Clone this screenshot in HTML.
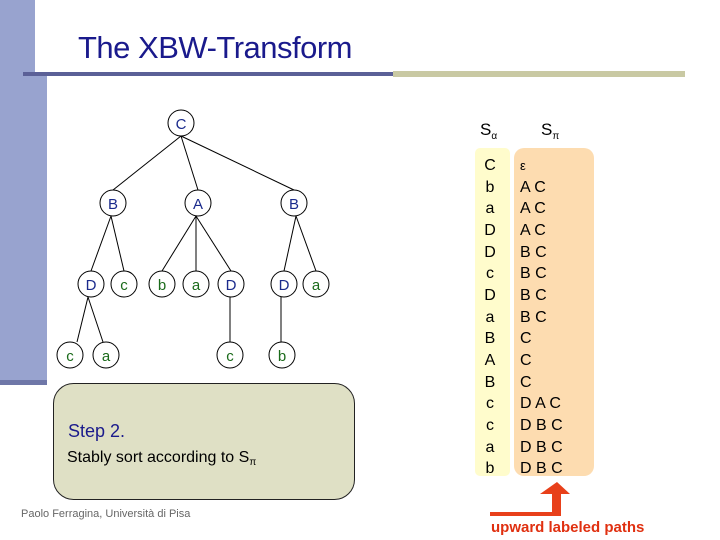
<!DOCTYPE html>
<html><head><meta charset="utf-8"><style>
body{margin:0;width:720px;height:540px;overflow:hidden;background:#fff;position:relative;font-family:"Liberation Sans",sans-serif}
.a{position:absolute}
</style></head><body>
<div class="a" style="left:0;top:0;width:35px;height:75px;background:#98a3cf"></div>
<div class="a" style="left:0;top:75px;width:47px;height:305px;background:#98a3cf"></div>
<div class="a" style="left:0;top:380px;width:47px;height:5px;background:#6f77a8"></div>
<div class="a" style="left:23px;top:72px;width:370px;height:4px;background:#5b6097"></div>
<div class="a" style="left:393px;top:71px;width:292px;height:6px;background:#c9c9a3"></div>
<div class="a" style="left:78px;top:30px;font-size:31px;color:#1a1a8c;letter-spacing:-0.5px">The XBW-Transform</div>

<svg class="a" style="left:0;top:0" width="720" height="540">
<g stroke="#000" stroke-width="1" fill="none">
<line x1="181" y1="136" x2="113" y2="190"/><line x1="181" y1="136" x2="198" y2="190"/><line x1="181" y1="136" x2="294" y2="190"/>
<line x1="111" y1="216" x2="91" y2="271"/><line x1="111" y1="216" x2="124" y2="271"/>
<line x1="196" y1="216" x2="162" y2="271"/><line x1="196" y1="216" x2="196" y2="271"/><line x1="196" y1="216" x2="231" y2="271"/>
<line x1="296" y1="216" x2="284" y2="271"/><line x1="296" y1="216" x2="316" y2="271"/>
<line x1="88" y1="297" x2="77" y2="342"/><line x1="88" y1="297" x2="103" y2="342"/>
<line x1="230" y1="297" x2="230" y2="342"/><line x1="281" y1="297" x2="281" y2="342"/>
</g>
<g fill="#fff" stroke="#000" stroke-width="1">
<circle cx="181" cy="123" r="13"/><circle cx="113" cy="203" r="13"/><circle cx="198" cy="203" r="13"/><circle cx="294" cy="203" r="13"/>
<circle cx="91" cy="284" r="13"/><circle cx="124" cy="284" r="13"/><circle cx="162" cy="284" r="13"/><circle cx="196" cy="284" r="13"/><circle cx="231" cy="284" r="13"/><circle cx="284" cy="284" r="13"/><circle cx="316" cy="284" r="13"/>
<circle cx="70" cy="355" r="13"/><circle cx="106" cy="355" r="13"/><circle cx="230" cy="355" r="13"/><circle cx="282" cy="355" r="13"/>
</g>
<g font-family="Liberation Sans" font-size="15" text-anchor="middle">
<g fill="#1a2a8c"><text x="181" y="129">C</text><text x="113" y="209">B</text><text x="198" y="209">A</text><text x="294" y="209">B</text><text x="91" y="290">D</text><text x="231" y="290">D</text><text x="284" y="290">D</text></g>
<g fill="#1a6a1a"><text x="124" y="290">c</text><text x="162" y="290">b</text><text x="196" y="290">a</text><text x="316" y="290">a</text><text x="70" y="361">c</text><text x="106" y="361">a</text><text x="230" y="361">c</text><text x="282" y="361">b</text></g>
</g>
<rect x="53.5" y="383.5" width="301" height="116" rx="20" fill="#dfe0c5" stroke="#222"/>
<text x="68" y="437" font-size="18" fill="#1a1a8c">Step 2.</text>
<text x="67" y="462" font-size="16" fill="#000">Stably sort according to S<tspan font-size="10" dy="3">π</tspan></text>
<text x="21" y="517" font-size="11" fill="#666">Paolo Ferragina, Università di Pisa</text>
<text x="480" y="135" font-size="17">S<tspan font-size="10" dy="4">α</tspan></text>
<text x="541" y="135" font-size="17">S<tspan font-size="10" dy="4">π</tspan></text>
<rect x="475" y="148" width="35" height="328" rx="5" fill="#fffccc"/>
<rect x="514" y="148" width="80" height="328" rx="10" fill="#fddcb0"/>
<g font-size="16" fill="#000">
<g text-anchor="middle">
<text x="490" y="170">C</text><text x="490" y="192">b</text><text x="490" y="213">a</text><text x="490" y="235">D</text><text x="490" y="257">D</text><text x="490" y="278">c</text><text x="490" y="300">D</text><text x="490" y="322">a</text><text x="490" y="343">B</text><text x="490" y="365">A</text><text x="490" y="387">B</text><text x="490" y="408">c</text><text x="490" y="430">c</text><text x="490" y="452">a</text><text x="490" y="473">b</text>
</g>
<g xml:space="preserve">
<text x="520" y="170" font-size="13">ε</text><text x="520" y="192">A C</text><text x="520" y="213">A C</text><text x="520" y="235">A C</text><text x="520" y="257">B C</text><text x="520" y="278">B C</text><text x="520" y="300">B C</text><text x="520" y="322">B C</text><text x="520" y="343">C</text><text x="520" y="365">C</text><text x="520" y="387">C</text><text x="520" y="408">D A C</text><text x="520" y="430">D B C</text><text x="520" y="452">D B C</text><text x="520" y="473">D B C</text>
</g></g>
<polygon points="557,482 540,494 570,494" fill="#e8401a"/>
<rect x="552" y="493" width="9" height="23" fill="#e8401a"/>
<rect x="490" y="512" width="71" height="4" fill="#e8401a"/>
<text x="491" y="532" font-size="15" font-weight="bold" fill="#e03010">upward labeled paths</text>
</svg>
</body></html>
